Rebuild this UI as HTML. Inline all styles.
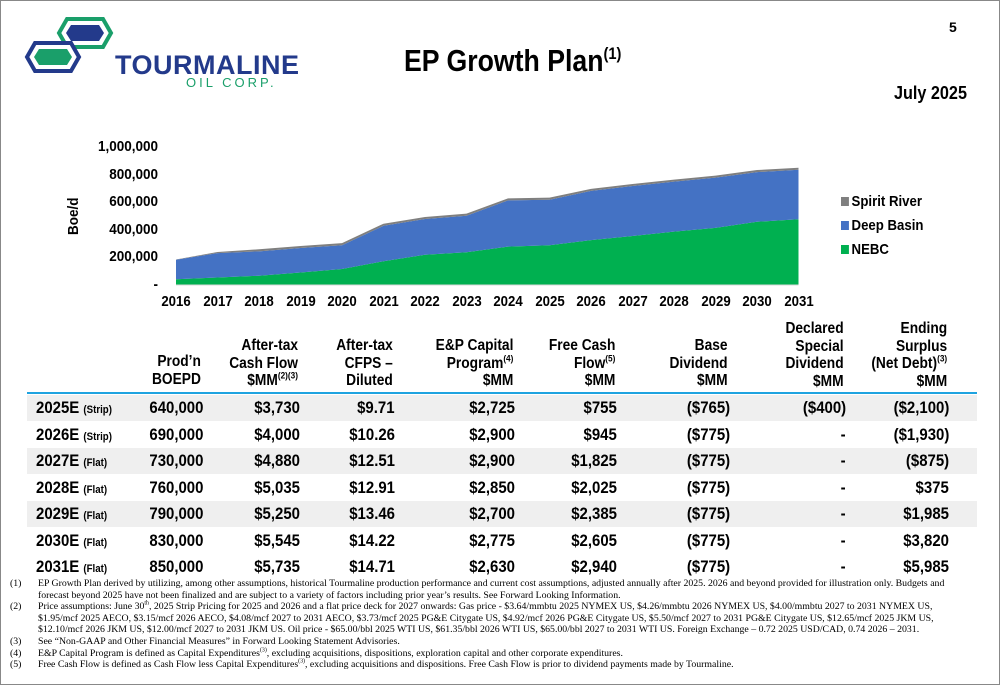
<!DOCTYPE html>
<html><head><meta charset="utf-8"><style>
body{margin:0;background:#fff}
#page{position:relative;width:998px;height:683px;border:1px solid #888;overflow:hidden;font-family:"Liberation Sans",sans-serif;font-weight:bold;color:#000}
.abs{position:absolute}
.hdr{position:absolute;text-align:right;font-size:16px;line-height:17.5px;transform:scaleX(.86);transform-origin:right top;white-space:nowrap}
.row{position:absolute;left:26px;width:950px;height:27px}
.row.g{background:#efefef}
.c{position:absolute;top:3px;font-size:17px;text-align:right;transform:scaleX(.88);transform-origin:right top;white-space:nowrap}
.yl{position:absolute;font-size:15px;text-align:right;width:100px;left:57px;transform:scaleX(.9);transform-origin:right top}
.xl{position:absolute;font-size:15px;top:292px;width:40px;text-align:center;transform:scaleX(.88)}
.fn{position:absolute;left:9px;font-family:"Liberation Serif",serif;font-weight:normal;font-size:9.8px;line-height:11.6px;width:950px}
.fn span.n{position:absolute;left:0}
.fn div{padding-left:28px}
sup{font-size:60%;line-height:0}
</style></head><body>
<div id="page">
<svg class="abs" style="left:22px;top:15px" width="95" height="62">
<polygon points="44,3 80,3 88,17 80,31 44,31 36,17" fill="#fff" stroke="#1a9f6a" stroke-width="4"/>
<polygon points="48,9 76,9 81,17 76,25 48,25 43,17" fill="#233a8b"/>
<polygon points="12,27 48,27 56,41 48,55 12,55 4,41" fill="#fff" stroke="#233a8b" stroke-width="4"/>
<polygon points="16,33 44,33 49,41 44,49 16,49 11,41" fill="#1a9f6a"/>
</svg>
<div class="abs" style="left:114px;top:49px;font-size:27px;color:#233a8b;letter-spacing:0.5px">TOURMALINE</div>
<div class="abs" style="left:185px;top:74px;font-weight:normal;font-size:13px;color:#1a9f6a;letter-spacing:3px">OIL CORP.</div>
<div class="abs" style="left:403px;top:42px;font-size:31px;transform:scaleX(.86);transform-origin:left top;white-space:nowrap">EP Growth Plan<sup style="font-size:55%;vertical-align:12px">(1)</sup></div>
<div class="abs" style="left:948px;top:18px;font-size:14px">5</div>
<div class="abs" style="left:893px;top:82px;font-size:18px;transform:scaleX(.9);transform-origin:left top;white-space:nowrap">July 2025</div>

<svg id="chart" class="abs" style="left:0;top:0" width="1000" height="320"></svg>
<div class="abs" style="left:64px;top:234px;transform:rotate(-90deg) scaleX(.9);transform-origin:left top;font-size:15px">Boe/d</div>
<div id="ylabels"></div><div id="xlabels"></div>
<div class="abs" style="left:840px;top:192px;font-size:15px;transform:scaleX(.88);transform-origin:left top;white-space:nowrap"><span style="display:inline-block;width:9px;height:9px;background:#7f7f7f;margin-right:3px"></span>Spirit River</div>
<div class="abs" style="left:840px;top:216px;font-size:15px;transform:scaleX(.88);transform-origin:left top;white-space:nowrap"><span style="display:inline-block;width:9px;height:9px;background:#4472c4;margin-right:3px"></span>Deep Basin</div>
<div class="abs" style="left:840px;top:240px;font-size:15px;transform:scaleX(.88);transform-origin:left top;white-space:nowrap"><span style="display:inline-block;width:9px;height:9px;background:#00b050;margin-right:3px"></span>NEBC</div>

<div class="hdr" style="right:798px;top:352px">Prod’n<br>BOEPD</div>
<div class="hdr" style="right:701px;top:336px">After-tax<br>Cash Flow<br>$MM<sup>(2)(3)</sup></div>
<div class="hdr" style="right:606px;top:336px">After-tax<br>CFPS –<br>Diluted</div>
<div class="hdr" style="right:486px;top:336px">E&amp;P Capital<br>Program<sup>(4)</sup><br>$MM</div>
<div class="hdr" style="right:384px;top:336px">Free Cash<br>Flow<sup>(5)</sup><br>$MM</div>
<div class="hdr" style="right:271px;top:336px">Base<br>Dividend<br>$MM</div>
<div class="hdr" style="right:155px;top:319px">Declared<br>Special<br>Dividend<br>$MM</div>
<div class="hdr" style="right:52px;top:319px">Ending<br>Surplus<br>(Net Debt)<sup>(3)</sup><br>$MM</div>
<div class="abs" style="left:26px;top:391px;width:950px;height:2px;background:#1ea3e0"></div>
<div id="table"></div>

<div class="fn" style="top:577px">
<span class="n">(1)</span><div>EP Growth Plan derived by utilizing, among other assumptions, historical Tourmaline production performance and current cost assumptions, adjusted annually after 2025. 2026 and beyond provided for illustration only. Budgets and forecast beyond 2025 have not been finalized and are subject to a variety of factors including prior year’s results. See Forward Looking Information.</div>
<span class="n">(2)</span><div>Price assumptions: June 30<sup>th</sup>, 2025 Strip Pricing for 2025 and 2026 and a flat price deck for 2027 onwards: Gas price - $3.64/mmbtu 2025 NYMEX US, $4.26/mmbtu 2026 NYMEX US, $4.00/mmbtu 2027 to 2031 NYMEX US, $1.95/mcf 2025 AECO, $3.15/mcf 2026 AECO, $4.08/mcf 2027 to 2031 AECO, $3.73/mcf 2025 PG&amp;E Citygate US, $4.92/mcf 2026 PG&amp;E Citygate US, $5.50/mcf 2027 to 2031 PG&amp;E Citygate US, $12.65/mcf 2025 JKM US, $12.10/mcf 2026 JKM US, $12.00/mcf 2027 to 2031 JKM US. Oil price - $65.00/bbl 2025 WTI US, $61.35/bbl 2026 WTI US, $65.00/bbl 2027 to 2031 WTI US.  Foreign Exchange – 0.72 2025 USD/CAD, 0.74 2026 – 2031.</div>
<span class="n">(3)</span><div>See “Non-GAAP and Other Financial Measures” in Forward Looking Statement Advisories.</div>
<span class="n">(4)</span><div>E&amp;P Capital Program is defined as Capital Expenditures<sup>(3)</sup>, excluding acquisitions, dispositions, exploration capital and other corporate expenditures.</div>
<span class="n">(5)</span><div>Free Cash Flow is defined as Cash Flow less Capital Expenditures<sup>(3)</sup>, excluding acquisitions and dispositions.  Free Cash Flow is prior to dividend payments made by Tourmaline.</div>
</div>
</div>
<script>
const years=[2016,2017,2018,2019,2020,2021,2022,2023,2024,2025,2026,2027,2028,2029,2030,2031];
const nebc=[42000,54000,67000,91000,116000,172000,219000,237000,278000,288000,325000,355000,387000,414000,458000,476000];
const deepBasin=[141000,177000,177000,177000,172000,257000,259000,265000,335000,330000,357000,362000,362000,364000,360000,359000];
const spiritRiver=[2000,8000,15000,15000,15000,15000,15000,15000,15000,15000,15000,15000,15000,15000,15000,15000];
const yTicks=[0,200000,400000,600000,800000,1000000];
const yTickLabels=["-","200,000","400,000","600,000","800,000","1,000,000"];
const rows=[
["2025E","(Strip)","640,000","$3,730","$9.71","$2,725","$755","($765)","($400)","($2,100)"],
["2026E","(Strip)","690,000","$4,000","$10.26","$2,900","$945","($775)","-","($1,930)"],
["2027E","(Flat)","730,000","$4,880","$12.51","$2,900","$1,825","($775)","-","($875)"],
["2028E","(Flat)","760,000","$5,035","$12.91","$2,850","$2,025","($775)","-","$375"],
["2029E","(Flat)","790,000","$5,250","$13.46","$2,700","$2,385","($775)","-","$1,985"],
["2030E","(Flat)","830,000","$5,545","$14.22","$2,775","$2,605","($775)","-","$3,820"],
["2031E","(Flat)","850,000","$5,735","$14.71","$2,630","$2,940","($775)","-","$5,985"]];
const X=i=>175+i*41.5, Y=v=>284-v/200000*27.6;
const NS="http://www.w3.org/2000/svg",svg=document.getElementById('chart');
function area(lo,hi,col,name){const p=document.createElementNS(NS,'polygon');let pts=[];
years.forEach((y,i)=>pts.push(X(i)+','+Y(hi[i])));for(let i=years.length-1;i>=0;i--)pts.push(X(i)+','+Y(lo[i]));
p.setAttribute('points',pts.join(' '));p.setAttribute('fill',col);


svg.appendChild(p);}
const z=years.map(()=>0),a=nebc,b=nebc.map((v,i)=>v+deepBasin[i]),c=b.map((v,i)=>v+spiritRiver[i]);
area(z,a,'#00b050','nebc-area');area(a,b,'#4472c4','deep-basin-area');area(b,c,'#7f7f7f','spirit-river-area');
const ax=document.createElementNS(NS,'line');ax.setAttribute('x1',X(0));ax.setAttribute('x2',X(15));ax.setAttribute('y1',284);ax.setAttribute('y2',284);ax.setAttribute('stroke','#d9d9d9');


svg.appendChild(ax);
const yl=document.getElementById('ylabels');
yTicks.forEach((t,i)=>{const d=document.createElement('div');d.className='yl';d.style.top=(Y(t)-9)+'px';d.textContent=yTickLabels[i];


yl.appendChild(d);});
const xl=document.getElementById('xlabels');
years.forEach((y,i)=>{const d=document.createElement('div');d.className='xl';d.style.left=(X(i)-20)+'px';d.textContent=y;


xl.appendChild(d);});
const rights=[202,299,394,514,616,729,845,948];
const tb=document.getElementById('table');
rows.forEach((r,i)=>{const d=document.createElement('div');d.className='row'+(i%2==0&&i<6?' g':'');d.style.top=(394+i*26.5)+'px';d.style.height='26px';


d.innerHTML='<div class="c" style="left:9px;text-align:left;transform-origin:left top">'+r[0]+' <span style="font-size:11px">'+r[1]+'</span></div>'+
r.slice(2).map((v,j)=>'<div class="c" style="right:'+(976-rights[j])+'px">'+v+'</div>').join('');
tb.appendChild(d);});
</script>
</body></html>
